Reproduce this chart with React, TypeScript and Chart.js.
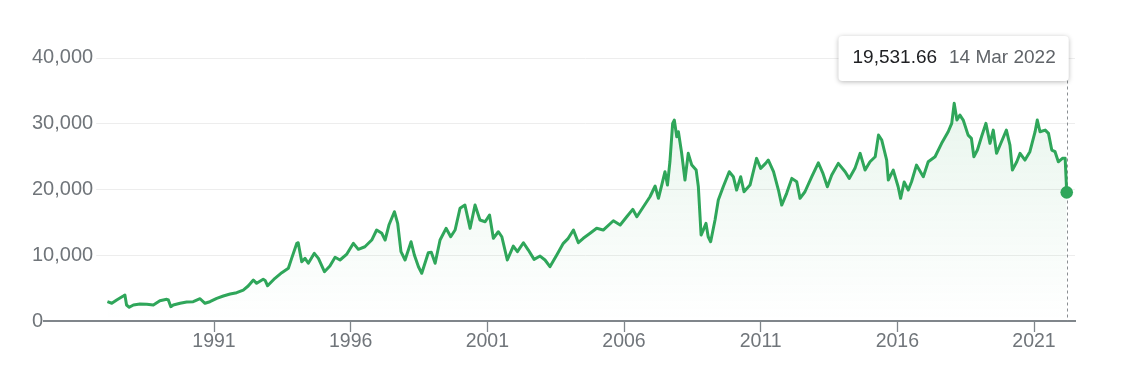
import React, { useEffect, useRef } from "react";
import { Chart, registerables } from "chart.js";

Chart.register(...registerables);

const years = [
  1987.1, 1987.26, 1987.44, 1987.68, 1987.74, 1987.8, 1987.9, 1988.05, 1988.29, 1988.54,
  1988.78, 1989.02, 1989.27, 1989.33, 1989.42, 1989.51, 1989.76, 1990.0, 1990.24, 1990.49,
  1990.67, 1990.85, 1991.1, 1991.34, 1991.59, 1991.83, 1992.07, 1992.25, 1992.44, 1992.56,
  1992.8, 1992.87, 1992.96, 1993.23, 1993.48, 1993.72, 1993.84, 1994.03, 1994.08, 1994.21,
  1994.33, 1994.45, 1994.67, 1994.82, 1995.04, 1995.24, 1995.43, 1995.61, 1995.86, 1996.1,
  1996.28, 1996.52, 1996.77, 1996.95, 1997.14, 1997.26, 1997.4, 1997.6, 1997.72, 1997.84,
  1997.99, 1998.21, 1998.33, 1998.48, 1998.6, 1998.84, 1998.95, 1999.09, 1999.27, 1999.49,
  1999.66, 1999.82, 2000.0, 2000.18, 2000.37, 2000.55, 2000.73, 2000.92, 2001.08, 2001.22,
  2001.4, 2001.53, 2001.73, 2001.95, 2002.1, 2002.32, 2002.5, 2002.71, 2002.93, 2003.11,
  2003.29, 2003.54, 2003.78, 2003.96, 2004.15, 2004.33, 2004.51, 2004.76, 2005.0, 2005.24,
  2005.61, 2005.86, 2006.1, 2006.32, 2006.47, 2006.71, 2006.95, 2007.14, 2007.26, 2007.38,
  2007.5, 2007.59, 2007.68, 2007.78, 2007.84, 2007.93, 2007.99, 2008.11, 2008.23, 2008.35,
  2008.48, 2008.64, 2008.72, 2008.82, 2008.9, 2009.0, 2009.08, 2009.17, 2009.33, 2009.45,
  2009.63, 2009.85, 2010.0, 2010.12, 2010.27, 2010.39, 2010.61, 2010.85, 2011.0, 2011.18,
  2011.28, 2011.47, 2011.65, 2011.77, 2011.95, 2012.14, 2012.32, 2012.44, 2012.62, 2012.87,
  2013.11, 2013.27, 2013.44, 2013.6, 2013.84, 2014.09, 2014.24, 2014.45, 2014.64, 2014.82,
  2015.0, 2015.19, 2015.31, 2015.43, 2015.61, 2015.67, 2015.85, 2016.03, 2016.12, 2016.25,
  2016.4, 2016.52, 2016.7, 2016.95, 2017.13, 2017.38, 2017.62, 2017.86, 2017.99, 2018.08,
  2018.18, 2018.29, 2018.41, 2018.59, 2018.71, 2018.8, 2018.93, 2019.08, 2019.24, 2019.39,
  2019.51, 2019.63, 2019.81, 2019.99, 2020.12, 2020.21, 2020.37, 2020.49, 2020.67, 2020.85,
  2021.04, 2021.12, 2021.22, 2021.41, 2021.53, 2021.65, 2021.77, 2021.89, 2022.04, 2022.14,
  2022.197,
];

// Index values at those dates
const values = [
  2930, 2690, 3190, 3790, 3950, 2430, 2080, 2430, 2580, 2530,
  2430, 3080, 3290, 3190, 2170, 2430, 2690, 2880, 2930, 3380,
  2690, 2930, 3440, 3790, 4100, 4300, 4700, 5310, 6220, 5720,
  6330, 6150, 5350, 6480, 7330, 8000, 9510, 11790, 11880, 9000,
  9510, 8760, 10270, 9510, 7480, 8350, 9670, 9260, 10170, 11790,
  10880, 11270, 12290, 13810, 13310, 12290, 14570, 16590, 14820, 10520,
  9260, 12030, 10020, 8240, 7240, 10370, 10450, 8760, 12290, 14070,
  12790, 13810, 17100, 17600, 14070, 17600, 15330, 15070, 16090, 12550,
  13550, 12790, 9260, 11380, 10520, 11880, 10770, 9360, 9860, 9260,
  8240, 10020, 11790, 12550, 13810, 11880, 12550, 13310, 14070, 13810,
  15220, 14570, 15830, 16950, 15830, 17350, 18860, 20490, 18620, 20640,
  22660, 20640, 24170, 30000, 30500, 27970, 28730, 25450, 21400, 25450,
  23670, 22910, 20380, 13050, 13810, 14820, 12790, 12030, 15330, 18360,
  20380, 22660, 21900, 19880, 21900, 19620, 20640, 24690, 23170, 23930,
  24430, 22660, 19880, 17600, 19380, 21650, 21140, 18620, 19620, 21900,
  24020, 22500, 20380, 22150, 23930, 22660, 21650, 23170, 25450, 22910,
  24170, 24930, 28220, 27470, 24430, 21400, 22910, 20380, 18620, 21100,
  19880, 21140, 23670, 21900, 24170, 24930, 26970, 28730, 30000, 33040,
  30500, 31260, 30500, 28220, 27720, 24930, 25950, 27970, 30000, 26970,
  28980, 25450, 27210, 28980, 26710, 22910, 24170, 25450, 24430, 25700,
  28730, 30500, 28730, 28980, 28480, 25950, 25700, 24170, 24690, 24690,
  19531.66,
];

const xTickYears = [1991, 1996, 2001, 2006, 2011, 2016, 2021];
const yTickValues = [0, 10000, 20000, 30000, 40000];
const lastDateLabel = "14 Mar 2022";

const FONT = 'Arial, "Liberation Sans", Helvetica, sans-serif';
const GREEN = "#2fa65a";
const LABEL_GREY = "#70757a";
const AXIS_GREY = "#80868b";

const fmtInt = (v: number) => Math.round(v).toLocaleString("en-US");

export default function App() {
  const ref = useRef<HTMLCanvasElement>(null);

  useEffect(() => {
    const canvas = ref.current;
    if (!canvas) return;

    const points = years.map((x, i) => ({ x, y: values[i] }));
    const lastIndex = points.length - 1;

    const overlay = {
      id: "overlay",
      beforeDatasetsDraw(chart: any) {
        const { ctx, chartArea, scales } = chart;
        const y = scales.y;
        ctx.save();
        ctx.font = `20px ${FONT}`;
        ctx.strokeStyle = "#ededed";
        ctx.lineWidth = 1;
        const labelLeft = chartArea.left - 12;
        y.ticks.forEach((t: any) => {
          if (t.value === 0) return;
          const w = ctx.measureText(fmtInt(t.value)).width;
          const py = Math.round(y.getPixelForValue(t.value)) + 0.5;
          ctx.beginPath();
          ctx.moveTo(labelLeft + w + 3, py);
          ctx.lineTo(chartArea.right, py);
          ctx.stroke();
        });
        // dashed marker line at last point
        const meta = chart.getDatasetMeta(0);
        const pt = meta.data[lastIndex];
        if (pt) {
          const px = Math.round(pt.x) + 0.5;
          ctx.strokeStyle = "#8a8e92";
          ctx.setLineDash([3, 3]);
          ctx.beginPath();
          ctx.moveTo(px, chartArea.top + 23);
          ctx.lineTo(px, chartArea.bottom);
          ctx.stroke();
          ctx.setLineDash([]);
        }
        ctx.restore();
      },
      afterDraw(chart: any) {
        const { ctx, chartArea } = chart;
        const meta = chart.getDatasetMeta(0);
        const pt = meta.data[lastIndex];
        if (!pt) return;
        ctx.save();
        ctx.font = `19px ${FONT}`;
        const valText = values[lastIndex].toLocaleString("en-US", {
          minimumFractionDigits: 2,
          maximumFractionDigits: 2,
        });
        const w1 = ctx.measureText(valText).width;
        const w2 = ctx.measureText(lastDateLabel).width;
        const boxW = 14 + w1 + 12 + w2 + 13;
        const boxH = 45;
        const right = pt.x + 2;
        const left = right - boxW;
        const top = chartArea.top - 21.5;
        const r = 4;
        ctx.shadowColor = "rgba(0,0,0,0.28)";
        ctx.shadowBlur = 5;
        ctx.shadowOffsetY = 1;
        ctx.fillStyle = "#ffffff";
        ctx.beginPath();
        ctx.moveTo(left + r, top);
        ctx.lineTo(left + boxW - r, top);
        ctx.quadraticCurveTo(left + boxW, top, left + boxW, top + r);
        ctx.lineTo(left + boxW, top + boxH - r);
        ctx.quadraticCurveTo(left + boxW, top + boxH, left + boxW - r, top + boxH);
        ctx.lineTo(left + r, top + boxH);
        ctx.quadraticCurveTo(left, top + boxH, left, top + boxH - r);
        ctx.lineTo(left, top + r);
        ctx.quadraticCurveTo(left, top, left + r, top);
        ctx.closePath();
        ctx.fill();
        ctx.shadowColor = "transparent";
        ctx.shadowBlur = 0;
        ctx.shadowOffsetY = 0;
        ctx.textBaseline = "middle";
        ctx.textAlign = "left";
        ctx.fillStyle = "#202124";
        ctx.fillText(valText, left + 14, top + 22);
        ctx.fillStyle = "#5f6368";
        ctx.fillText(lastDateLabel, left + 14 + w1 + 12, top + 22);
        ctx.restore();
      },
    };

    const chart = new Chart(canvas, {
      type: "line",
      data: {
        datasets: [
          {
            data: points,
            borderColor: GREEN,
            borderWidth: 3,
            borderJoinStyle: "round",
            tension: 0,
            fill: "start",
            backgroundColor: (c: any) => {
              const area = c.chart.chartArea;
              if (!area) return "rgba(47,166,90,0.06)";
              const g = c.chart.ctx.createLinearGradient(0, area.top, 0, area.bottom);
              g.addColorStop(0, "rgba(47,166,90,0.13)");
              g.addColorStop(1, "rgba(47,166,90,0)");
              return g;
            },
            pointRadius: (c: any) => (c.dataIndex === lastIndex ? 6.3 : 0),
            pointHoverRadius: 0,
            pointBackgroundColor: GREEN,
            pointBorderWidth: 0,
          },
        ],
      },
      options: {
        animation: false,
        responsive: true,
        maintainAspectRatio: false,
        events: [],
        layout: { padding: { left: 24, right: 39, top: 49.5, bottom: 0 } },
        plugins: {
          legend: { display: false },
          tooltip: { enabled: false },
          title: { display: false },
        },
        scales: {
          x: {
            type: "linear",
            min: 1984.78,
            max: 2022.5,
            afterBuildTicks: (s: any) => {
              s.ticks = xTickYears.map((v) => ({ value: v }));
            },
            afterFit: (s: any) => {
              s.height = 51;
            },
            grid: {
              display: true,
              drawOnChartArea: false,
              drawTicks: true,
              tickLength: 11,
              tickColor: AXIS_GREY,
              tickWidth: 1.3,
            },
            border: { display: true, color: AXIS_GREY, width: 2 },
            ticks: {
              autoSkip: false,
              maxRotation: 0,
              padding: 0,
              color: LABEL_GREY,
              font: { family: FONT, size: 19.5, lineHeight: 1 },
              callback: (v: any) => String(v),
            },
          },
          y: {
            type: "linear",
            min: 0,
            max: 40000,
            afterBuildTicks: (s: any) => {
              s.ticks = yTickValues.map((v) => ({ value: v }));
            },
            afterFit: (s: any) => {
              s.width = 12;
            },
            grid: { display: false, drawTicks: false },
            border: { display: false },
            ticks: {
              mirror: true,
              crossAlign: "near",
              padding: -12,
              color: LABEL_GREY,
              font: { family: FONT, size: 20 },
              callback: (v: any) => fmtInt(Number(v)),
            },
          },
        },
      },
      plugins: [overlay],
    } as any);

    return () => chart.destroy();
  }, []);

  return (
    <div style={{ position: "relative", width: 1106, height: 364 }}>
      <canvas ref={ref} />
    </div>
  );
}
